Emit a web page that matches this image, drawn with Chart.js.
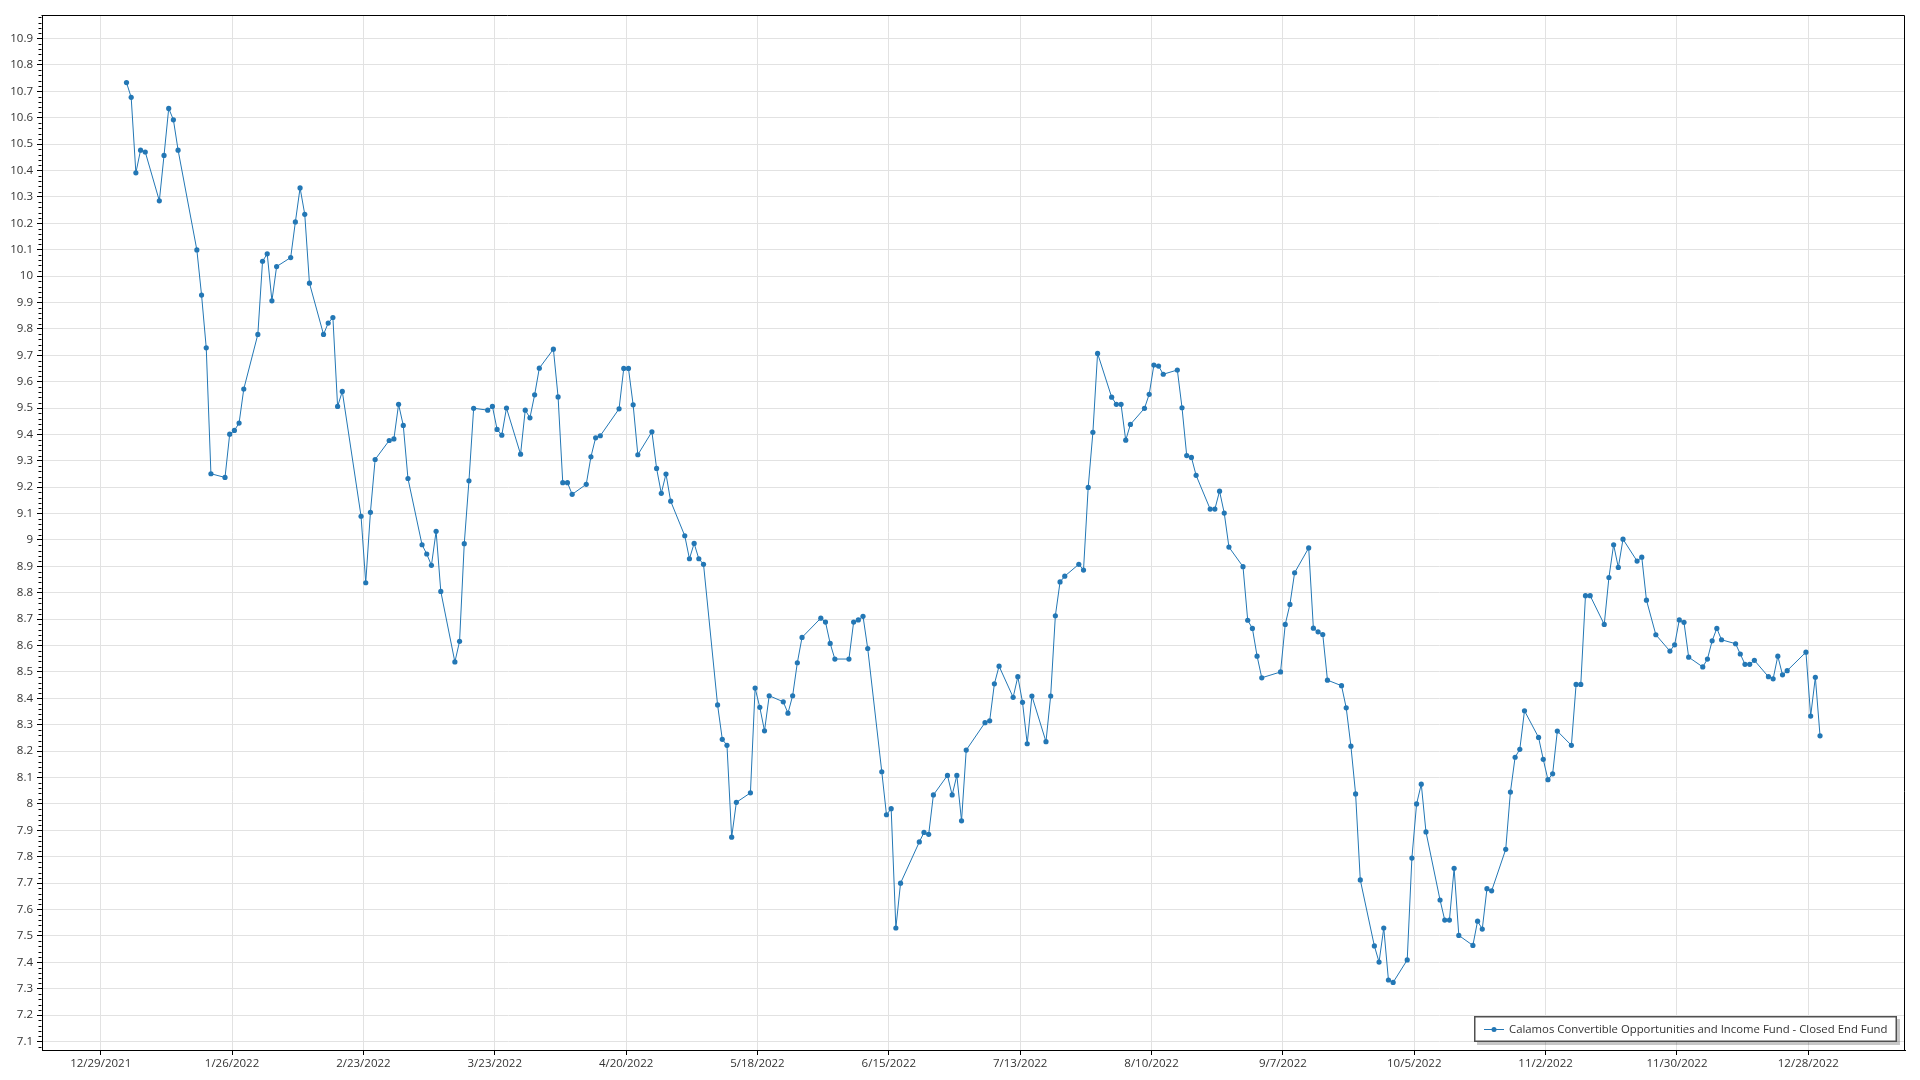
<!DOCTYPE html>
<html><head><meta charset="utf-8">
<script src="https://cdn.jsdelivr.net/npm/chart.js@4.4.0/dist/chart.umd.min.js"></script>
<style>html,body{margin:0;padding:0;background:#fff;overflow:hidden}canvas{display:block}</style>
</head><body>
<canvas id="c" width="1920" height="1080"></canvas>
<script>
const seriesLabel = 'Calamos Convertible Opportunities and Income Fund - Closed End Fund';

const dates = [
'2022-01-03','2022-01-04','2022-01-05','2022-01-06','2022-01-07','2022-01-10','2022-01-11','2022-01-12','2022-01-13','2022-01-14',
'2022-01-18','2022-01-19','2022-01-20','2022-01-21','2022-01-24','2022-01-25','2022-01-26','2022-01-27','2022-01-28','2022-01-31',
'2022-02-01','2022-02-02','2022-02-03','2022-02-04','2022-02-07','2022-02-08','2022-02-09','2022-02-10','2022-02-11','2022-02-14',
'2022-02-15','2022-02-16','2022-02-17','2022-02-18','2022-02-22','2022-02-23','2022-02-24','2022-02-25','2022-02-28','2022-03-01',
'2022-03-02','2022-03-03','2022-03-04','2022-03-07','2022-03-08','2022-03-09','2022-03-10','2022-03-11','2022-03-14','2022-03-15',
'2022-03-16','2022-03-17','2022-03-18','2022-03-21','2022-03-22','2022-03-23','2022-03-24','2022-03-25','2022-03-28','2022-03-29',
'2022-03-30','2022-03-31','2022-04-01','2022-04-04','2022-04-05','2022-04-06','2022-04-07','2022-04-08','2022-04-11','2022-04-12',
'2022-04-13','2022-04-14','2022-04-18','2022-04-19','2022-04-20','2022-04-21','2022-04-22','2022-04-25','2022-04-26','2022-04-27',
'2022-04-28','2022-04-29','2022-05-02','2022-05-03','2022-05-04','2022-05-05','2022-05-06','2022-05-09','2022-05-10','2022-05-11',
'2022-05-12','2022-05-13','2022-05-16','2022-05-17','2022-05-18','2022-05-19','2022-05-20','2022-05-23','2022-05-24','2022-05-25',
'2022-05-26','2022-05-27','2022-05-31','2022-06-01','2022-06-02','2022-06-03','2022-06-06','2022-06-07','2022-06-08','2022-06-09',
'2022-06-10','2022-06-13','2022-06-14','2022-06-15','2022-06-16','2022-06-17','2022-06-21','2022-06-22','2022-06-23','2022-06-24',
'2022-06-27','2022-06-28','2022-06-29','2022-06-30','2022-07-01','2022-07-05','2022-07-06','2022-07-07','2022-07-08','2022-07-11',
'2022-07-12','2022-07-13','2022-07-14','2022-07-15','2022-07-18','2022-07-19','2022-07-20','2022-07-21','2022-07-22','2022-07-25',
'2022-07-26','2022-07-27','2022-07-28','2022-07-29','2022-08-01','2022-08-02','2022-08-03','2022-08-04','2022-08-05','2022-08-08',
'2022-08-09','2022-08-10','2022-08-11','2022-08-12','2022-08-15','2022-08-16','2022-08-17','2022-08-18','2022-08-19','2022-08-22',
'2022-08-23','2022-08-24','2022-08-25','2022-08-26','2022-08-29','2022-08-30','2022-08-31','2022-09-01','2022-09-02','2022-09-06',
'2022-09-07','2022-09-08','2022-09-09','2022-09-12','2022-09-13','2022-09-14','2022-09-15','2022-09-16','2022-09-19','2022-09-20',
'2022-09-21','2022-09-22','2022-09-23','2022-09-26','2022-09-27','2022-09-28','2022-09-29','2022-09-30','2022-10-03','2022-10-04',
'2022-10-05','2022-10-06','2022-10-07','2022-10-10','2022-10-11','2022-10-12','2022-10-13','2022-10-14','2022-10-17','2022-10-18',
'2022-10-19','2022-10-20','2022-10-21','2022-10-24','2022-10-25','2022-10-26','2022-10-27','2022-10-28','2022-10-31','2022-11-01',
'2022-11-02','2022-11-03','2022-11-04','2022-11-07','2022-11-08','2022-11-09','2022-11-10','2022-11-11','2022-11-14','2022-11-15',
'2022-11-16','2022-11-17','2022-11-18','2022-11-21','2022-11-22','2022-11-23','2022-11-25','2022-11-28','2022-11-29','2022-11-30',
'2022-12-01','2022-12-02','2022-12-05','2022-12-06','2022-12-07','2022-12-08','2022-12-09','2022-12-12','2022-12-13','2022-12-14',
'2022-12-15','2022-12-16','2022-12-19','2022-12-20','2022-12-21','2022-12-22','2022-12-23','2022-12-27','2022-12-28','2022-12-29',
'2022-12-30'
];

const prices = [
10.733,10.677,10.391,10.477,10.470,10.285,10.457,10.635,10.592,10.477,
10.099,9.928,9.728,9.251,9.237,9.401,9.415,9.443,9.572,9.779,
10.056,10.084,9.906,10.036,10.070,10.205,10.334,10.234,9.973,9.779,
9.822,9.843,9.506,9.563,9.090,8.838,9.105,9.305,9.377,9.383,
9.514,9.434,9.233,8.982,8.947,8.904,9.033,8.805,8.538,8.616,
8.986,9.224,9.499,9.492,9.506,9.419,9.397,9.500,9.325,9.492,
9.463,9.550,9.651,9.723,9.542,9.217,9.217,9.173,9.211,9.315,
9.387,9.395,9.497,9.650,9.650,9.512,9.323,9.410,9.271,9.177,
9.250,9.147,9.016,8.929,8.987,8.929,8.908,8.375,8.245,8.222,
7.874,8.006,8.042,8.439,8.366,8.277,8.410,8.387,8.344,8.410,
8.535,8.631,8.704,8.689,8.608,8.549,8.549,8.689,8.697,8.711,
8.589,8.122,7.959,7.982,7.530,7.700,7.856,7.892,7.885,8.034,
8.108,8.034,8.108,7.936,8.204,8.308,8.315,8.455,8.522,8.404,
8.482,8.385,8.228,8.409,8.236,8.409,8.713,8.841,8.863,8.908,
8.886,9.199,9.408,9.707,9.541,9.514,9.514,9.378,9.438,9.499,
9.552,9.663,9.659,9.628,9.644,9.501,9.320,9.313,9.245,9.117,
9.117,9.185,9.102,8.973,8.899,8.696,8.665,8.560,8.478,8.500,
8.680,8.756,8.876,8.970,8.666,8.652,8.642,8.469,8.448,8.364,
8.219,8.038,7.712,7.462,7.401,7.530,7.333,7.324,7.409,7.795,
8.000,8.075,7.894,7.636,7.560,7.560,7.756,7.502,7.464,7.556,
7.526,7.679,7.671,7.828,8.045,8.177,8.207,8.353,8.252,8.169,
8.092,8.114,8.276,8.222,8.453,8.453,8.789,8.789,8.680,8.858,
8.982,8.896,9.003,8.920,8.935,8.772,8.641,8.579,8.603,8.697,
8.688,8.556,8.519,8.549,8.618,8.665,8.622,8.607,8.568,8.529,
8.529,8.544,8.482,8.474,8.560,8.489,8.505,8.575,8.333,8.480,
8.258
];

const xTickLabels = ['12/29/2021','1/26/2022','2/23/2022','3/23/2022','4/20/2022','5/18/2022','6/15/2022',
  '7/13/2022','8/10/2022','9/7/2022','10/5/2022','11/2/2022','11/30/2022','12/28/2022'];

const yTickValues = [7.1,7.2,7.3,7.4,7.5,7.6,7.7,7.8,7.9,8,8.1,8.2,8.3,8.4,8.5,8.6,8.7,8.8,8.9,9,
  9.1,9.2,9.3,9.4,9.5,9.6,9.7,9.8,9.9,10,10.1,10.2,10.3,10.4,10.5,10.6,10.7,10.8,10.9];

const DAY = 86400000;
function parseMDY(s) { const [m, d, y] = s.split('/').map(Number); return Date.UTC(y, m - 1, d); }
function fmtMDY(t) { const d = new Date(t); return (d.getUTCMonth() + 1) + '/' + d.getUTCDate() + '/' + d.getUTCFullYear(); }

const xTickValues = xTickLabels.map(parseMDY);
const firstTick = xTickValues[0];
const points = dates.map((d, i) => ({ x: Date.parse(d + 'T12:00:00Z'), y: prices[i] }));

const FONT = "'Open Sans', 'Noto Sans', sans-serif";
const LINE_COLOR = '#2377b5';
const TEXT_COLOR = '#333333';
const GRID_COLOR = '#e2e2e2';

const framePlugin = {
  id: 'frame',
  afterDraw(chart) {
    const { ctx, chartArea: a } = chart;
    const y = chart.scales.y;
    ctx.save();
    ctx.strokeStyle = '#000';
    ctx.lineWidth = 1;
    const L = Math.round(a.left) - 0.5, R = Math.round(a.right) - 0.5;
    const T = Math.round(a.top) + 0.5, B = Math.round(a.bottom) + 0.5;
    ctx.beginPath();
    ctx.moveTo(L, T); ctx.lineTo(R, T); ctx.lineTo(R, B);
    ctx.stroke();
    ctx.beginPath();
    for (let k = Math.ceil(y.min * 50); k <= Math.floor(y.max * 50); k++) {
      if (k % 5 === 0) continue;
      const py = Math.round(y.getPixelForValue(k / 50)) + 0.5;
      ctx.moveTo(L - 3, py); ctx.lineTo(L, py);
    }
    ctx.stroke();
    ctx.restore();
  }
};

const legendPlugin = {
  id: 'boxLegend',
  afterDraw(chart) {
    const { ctx, chartArea: a } = chart;
    const ds = chart.data.datasets[0];
    ctx.save();
    ctx.font = '11.35px ' + FONT;
    const tw = ctx.measureText(ds.label).width;
    const padL = 10, sym = 20, gap = 5, padR = 10, h = 26;
    const w = Math.round(padL + sym + gap + tw + padR);
    const right = Math.round(a.right) - 8, bottom = Math.round(a.bottom) - 8;
    const left = right - w, top = bottom - h;
    ctx.fillStyle = 'rgba(0,0,0,0.22)';
    ctx.fillRect(left + 3, top + 3, w, h);
    ctx.fillStyle = '#fff';
    ctx.fillRect(left, top, w, h);
    ctx.strokeStyle = '#505050';
    ctx.lineWidth = 1.5;
    ctx.strokeRect(left + 0.75, top + 0.75, w - 1.5, h - 1.5);
    const cy = Math.round(top + h / 2) + 0.5;
    ctx.strokeStyle = ds.borderColor;
    ctx.lineWidth = 1;
    ctx.beginPath(); ctx.moveTo(left + padL, cy); ctx.lineTo(left + padL + sym, cy); ctx.stroke();
    ctx.fillStyle = ds.borderColor;
    ctx.beginPath(); ctx.arc(left + padL + sym / 2, cy, 2.5, 0, Math.PI * 2); ctx.fill();
    ctx.fillStyle = TEXT_COLOR;
    ctx.textBaseline = 'middle';
    ctx.textAlign = 'left';
    ctx.fillText(ds.label, left + padL + sym + gap, cy);
    ctx.restore();
  }
};

new Chart(document.getElementById('c'), {
  type: 'line',
  data: {
    datasets: [{
      label: seriesLabel,
      data: points,
      borderColor: LINE_COLOR,
      backgroundColor: LINE_COLOR,
      borderWidth: 1,
      pointRadius: 2.6,
      pointBorderWidth: 0,
      pointBackgroundColor: LINE_COLOR,
      tension: 0,
      fill: false
    }]
  },
  options: {
    responsive: false,
    devicePixelRatio: 1,
    animation: false,
    events: [],
    layout: { padding: { top: 15, right: 15, left: 0, bottom: 0 } },
    plugins: { legend: { display: false }, title: { display: false }, tooltip: { enabled: false } },
    font: { family: FONT },
    scales: {
      x: {
        type: 'linear',
        min: firstTick - 12.51 * DAY,
        max: firstTick + 384.61 * DAY,
        afterBuildTicks(scale) { scale.ticks = xTickValues.map(v => ({ value: v })); },
        afterFit(scale) { scale.height = 30; },
        ticks: {
          autoSkip: false, maxRotation: 0, minRotation: 0, padding: 2,
          color: TEXT_COLOR, font: { family: FONT, size: 11.5 },
          callback: (v) => fmtMDY(v)
        },
        grid: { color: GRID_COLOR, tickColor: '#000', tickLength: 5, drawTicks: true },
        border: { color: '#000', width: 1 }
      },
      y: {
        type: 'linear',
        min: 7.0678,
        max: 10.989,
        afterBuildTicks(scale) { scale.ticks = yTickValues.map(v => ({ value: v })); },
        afterFit(scale) { scale.width = 42; },
        ticks: {
          autoSkip: false, padding: 4,
          color: TEXT_COLOR, font: { family: FONT, size: 11.5 },
          callback: (v) => String(v)
        },
        grid: { color: GRID_COLOR, tickColor: '#000', tickLength: 5, drawTicks: true },
        border: { color: '#000', width: 1 }
      }
    }
  },
  plugins: [framePlugin, legendPlugin]
});
</script>
</body></html>
